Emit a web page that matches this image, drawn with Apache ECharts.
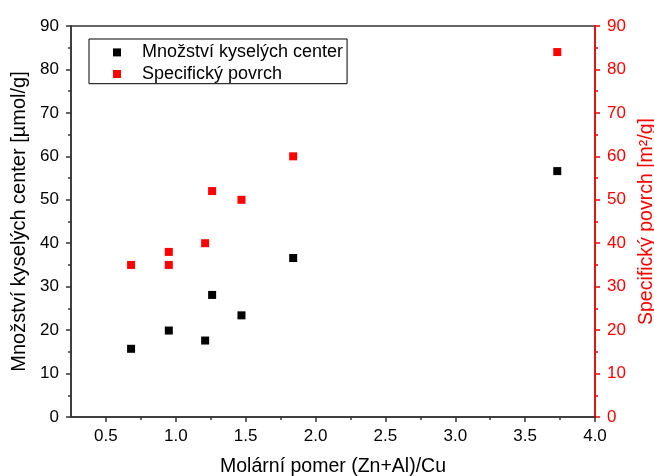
<!DOCTYPE html>
<html>
<head>
<meta charset="utf-8">
<script src="https://cdn.jsdelivr.net/npm/echarts@6/dist/echarts.min.js"></script>
<style>html,body{margin:0;padding:0;background:#fff;}#c{width:654px;height:476px;}</style>
</head>
<body>
<div id="c"></div>
<script>
// Data
const xAcid = [0.68, 0.95, 1.21, 1.26, 1.47, 1.84, 3.73];
const acidCenters = [15.7, 19.9, 17.6, 28.1, 23.4, 36.6, 56.6];
const xSurface = [0.68, 0.95, 0.95, 1.21, 1.26, 1.47, 1.84, 3.73];
const surfaceArea = [35, 38, 35, 40, 52, 50, 60, 84];
const xMajorTicks = [0.5, 1.0, 1.5, 2.0, 2.5, 3.0, 3.5, 4.0];
const xMinorTicks = [0.75, 1.25, 1.75, 2.25, 2.75, 3.25, 3.75];
const seriesNames = ['Množství kyselých center', 'Specifický povrch'];
const xName = 'Molární pomer (Zn+Al)/Cu';
const yLeftName = 'Množství kyselých center [µmol/g]';
const yRightName = 'Specifický povrch [m²/g]';

const FONT = 'Liberation Sans, Arial, sans-serif';
const AX = '#333';
const RED = '#ff0000';

const chart = echarts.init(document.getElementById('c'), null, {renderer: 'canvas'});
chart.setOption({
  animation: false,
  backgroundColor: '#fff',
  textStyle: {fontFamily: FONT},
  grid: {left: 71, right: 59, top: 26, bottom: 59, outerBoundsMode: 'none', containLabel: false,
         show: true, borderColor: AX, borderWidth: 1.5, backgroundColor: 'transparent'},
  legend: {
    left: 89, top: 39, orient: 'vertical',
    padding: [4.4, 4, 0.7, 24],
    itemWidth: 8, itemHeight: 8, itemGap: 3.6,
    borderColor: '#000', borderWidth: 1,
    icon: 'rect',
    textStyle: {fontFamily: FONT, fontSize: 18, color: '#000', lineHeight: 18, padding: [0, 0, 0, 16]},
    data: seriesNames
  },
  xAxis: [{
    type: 'value', min: 0.25, max: 4.0,
    name: xName, nameLocation: 'middle', nameGap: 40,
    nameTextStyle: {fontFamily: FONT, fontSize: 19.5, color: '#000'},
    axisLine: {show: true, onZero: false, lineStyle: {color: AX, width: 1.5}},
    axisTick: {show: true, inside: false, length: 5, customValues: xMajorTicks, lineStyle: {color: AX, width: 1.5}},
    axisLabel: {show: true, customValues: xMajorTicks, margin: 11, fontFamily: FONT, fontSize: 17, color: '#000', formatter: v => v.toFixed(1)},
    splitLine: {show: false}
  }, {
    type: 'value', min: 0.25, max: 4.0, position: 'bottom',
    axisLine: {show: false, onZero: false},
    axisTick: {show: true, inside: false, length: 3, customValues: xMinorTicks, lineStyle: {color: AX, width: 1.5}},
    axisLabel: {show: false},
    splitLine: {show: false}
  }],
  yAxis: [{
    type: 'value', min: 0, max: 90, interval: 10, position: 'left',
    name: yLeftName, nameLocation: 'middle', nameGap: 38, nameRotate: 90,
    nameTextStyle: {fontFamily: FONT, fontSize: 20, color: '#000'},
    axisLine: {show: true, onZero: false, lineStyle: {color: AX, width: 1.5}},
    axisTick: {show: true, inside: false, length: 5, lineStyle: {color: AX, width: 1.5}},
    minorTick: {show: true, splitNumber: 2, length: 3, lineStyle: {color: AX, width: 1.5}},
    axisLabel: {margin: 12, fontFamily: FONT, fontSize: 17, color: '#000'},
    splitLine: {show: false}
  }, {
    type: 'value', min: 0, max: 90, interval: 10, position: 'right',
    name: yRightName, nameLocation: 'middle', nameGap: 38, nameRotate: 90,
    nameTextStyle: {fontFamily: FONT, fontSize: 19.5, color: RED},
    axisLine: {show: true, onZero: false, lineStyle: {color: RED, width: 1.5}},
    axisTick: {show: true, inside: false, length: 5, lineStyle: {color: RED, width: 1.5}},
    minorTick: {show: true, splitNumber: 2, length: 3, lineStyle: {color: RED, width: 1.5}},
    axisLabel: {margin: 12, fontFamily: FONT, fontSize: 17, color: RED},
    splitLine: {show: false}
  }],
  series: [{
    name: seriesNames[0], type: 'scatter', xAxisIndex: 0, yAxisIndex: 0,
    symbol: 'rect', symbolSize: 8,
    itemStyle: {color: '#000', opacity: 1},
    data: xAcid.map((x, i) => [x, acidCenters[i]])
  }, {
    name: seriesNames[1], type: 'scatter', xAxisIndex: 0, yAxisIndex: 1,
    symbol: 'rect', symbolSize: 8,
    itemStyle: {color: RED, opacity: 1},
    data: xSurface.map((x, i) => [x, surfaceArea[i]])
  }]
});
</script>
</body>
</html>
